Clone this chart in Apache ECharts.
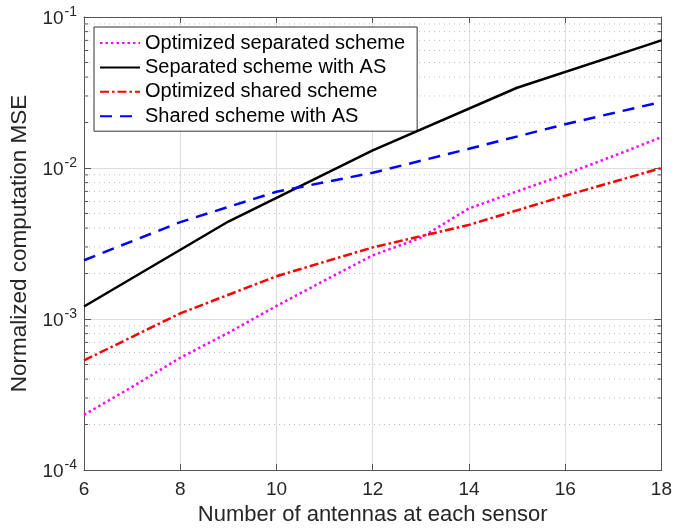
<!DOCTYPE html>
<html>
<head>
<meta charset="utf-8">
<script src="https://cdn.jsdelivr.net/npm/echarts@6/dist/echarts.min.js"></script>
<style>
  html, body { margin: 0; padding: 0; background: #fff; }
  #chart { width: 675px; height: 531px; }
</style>
</head>
<body>
<div id="chart"></div>
<script>
// x positions of the simulated points
var xAll = [6, 7, 8, 9, 10, 11, 12, 13, 14, 15, 16, 17, 18];
var xEven = [6, 8, 10, 12, 14, 16, 18];
var xThird = [6, 9, 12, 15, 18];

// normalized computation MSE
var sepOptimized = [2.32e-4, 3.55e-4, 5.54e-4, 8.1e-4, 1.22e-3, 1.8e-3, 2.64e-3, 3.45e-3, 5.4e-3, 7.0e-3, 9.08e-3, 1.2e-2, 1.6e-2]; // on xAll
var sepWithAS = [1.21e-3, 4.42e-3, 1.31e-2, 3.4e-2, 7.0e-2];                        // on xThird
var sharedOptimized = [5.32e-4, 1.09e-3, 1.92e-3, 2.98e-3, 4.2e-3, 6.55e-3, 1.0e-2]; // on xEven
var sharedWithAS = [2.45e-3, 4.38e-3, 6.96e-3, 9.3e-3, 1.34e-2, 1.95e-2, 2.74e-2];   // on xEven

var seriesNames = ['Optimized separated scheme', 'Separated scheme with AS',
  'Optimized shared scheme', 'Shared scheme with AS'];

// axis ranges / ticks
var xMin = 6, xMax = 18, xStep = 2;
var yMin = 1e-4, yMax = 1e-1;
var minorMantissas = [2, 3, 4, 5, 6, 7, 8, 9];
var decades = [1e-4, 1e-3, 1e-2];

var minorValues = [];
decades.forEach(function (d) {
  minorMantissas.forEach(function (m) { minorValues.push([xMin, m * d]); });
});

function pairs(xs, ys) {
  return xs.map(function (x, i) { return [x, ys[i]]; });
}

var font = 'Liberation Sans, Arial, Helvetica, sans-serif';
var axisCol = '#555';
var textCol = '#262626';

function expLabel(v) {
  return '{b|10}{e|' + Math.round(Math.log10(v)) + '}';
}

var chart = echarts.init(document.getElementById('chart'));

var option = {
  animation: false,
  backgroundColor: '#fff',
  textStyle: { fontFamily: font },
  grid: { left: 84, right: 12.3, top: 17, bottom: 57.5, containLabel: false },
  legend: {
    data: seriesNames,
    orient: 'vertical',
    left: 94,
    top: 27,
    padding: [6, 12, 5, 5],
    itemGap: 4.4,
    itemWidth: 40,
    itemHeight: 14,
    backgroundColor: '#fff',
    borderColor: '#333',
    borderWidth: 1,
    borderRadius: 0,
    itemStyle: { color: 'rgba(0,0,0,0)', borderColor: 'rgba(0,0,0,0)', borderWidth: 0 },
    textStyle: { fontSize: 20, lineHeight: 20, color: '#000', fontFamily: font }
  },
  xAxis: [{
    type: 'value',
    min: xMin, max: xMax, interval: xStep,
    name: 'Number of antennas at each sensor',
    nameLocation: 'middle',
    nameGap: 34,
    nameTextStyle: { fontSize: 22, color: textCol, fontFamily: font },
    axisLine: { lineStyle: { color: axisCol, width: 1 } },
    axisTick: { inside: true, length: 6, lineStyle: { color: axisCol } },
    axisLabel: { fontSize: 19, color: textCol, margin: 10, fontFamily: font },
    splitLine: { show: true, lineStyle: { color: '#dedede', width: 1 } }
  }, {
    type: 'value',
    position: 'top',
    min: xMin, max: xMax, interval: xStep,
    axisLine: { lineStyle: { color: axisCol, width: 1 } },
    axisTick: { inside: true, length: 6, lineStyle: { color: axisCol } },
    axisLabel: { show: false },
    splitLine: { show: false }
  }],
  yAxis: [{
    type: 'log',
    logBase: 10,
    min: yMin, max: yMax,
    name: 'Normalized computation MSE',
    nameLocation: 'middle',
    nameGap: 50,
    nameTextStyle: { fontSize: 22.5, color: textCol, fontFamily: font },
    axisLine: { show: true, lineStyle: { color: axisCol, width: 1 } },
    axisTick: { show: true, inside: true, length: 7, lineStyle: { color: axisCol } },
    axisLabel: {
      margin: 7,
      formatter: expLabel,
      rich: {
        b: { fontSize: 19, color: textCol, fontFamily: font, verticalAlign: 'bottom' },
        e: { fontSize: 14, color: textCol, fontFamily: font, verticalAlign: 'bottom', padding: [0, 0, 9, 1] }
      }
    },
    splitLine: { show: true, lineStyle: { color: '#dedede', width: 1 } }
  }, {
    type: 'log',
    logBase: 10,
    position: 'right',
    min: yMin, max: yMax,
    axisLine: { show: true, lineStyle: { color: axisCol, width: 1 } },
    axisTick: { show: true, inside: true, length: 7, lineStyle: { color: axisCol } },
    axisLabel: { show: false },
    splitLine: { show: false }
  }],
  series: [
    {
      // minor log grid + minor ticks at 2..9 x 10^k
      type: 'custom',
      name: 'minor',
      silent: true,
      z: 1,
      xAxisIndex: 0, yAxisIndex: 0,
      data: minorValues,
      renderItem: function (params, api) {
        var cs = params.coordSys;
        var y = api.coord([api.value(0), api.value(1)])[1];
        return {
          type: 'group',
          children: [{
            type: 'line',
            shape: { x1: cs.x, y1: y, x2: cs.x + cs.width, y2: y },
            style: { stroke: '#bdbdbd', lineWidth: 1, lineDash: [1, 4] }
          }, {
            type: 'line',
            shape: { x1: cs.x, y1: y, x2: cs.x + 4, y2: y },
            style: { stroke: axisCol, lineWidth: 1 }
          }, {
            type: 'line',
            shape: { x1: cs.x + cs.width - 4, y1: y, x2: cs.x + cs.width, y2: y },
            style: { stroke: axisCol, lineWidth: 1 }
          }]
        };
      }
    },
    {
      name: seriesNames[0], type: 'line', symbol: 'none', z: 5,
      data: pairs(xAll, sepOptimized),
      itemStyle: { color: '#ff00ff' },
      lineStyle: { color: '#ff00ff', width: 2.5, type: [2.5, 3] }
    },
    {
      name: seriesNames[1], type: 'line', symbol: 'none', z: 5,
      data: pairs(xThird, sepWithAS),
      itemStyle: { color: '#000' },
      lineStyle: { color: '#000', width: 2.5, type: 'solid' }
    },
    {
      name: seriesNames[2], type: 'line', symbol: 'none', z: 5,
      data: pairs(xEven, sharedOptimized),
      itemStyle: { color: '#ff0000' },
      lineStyle: { color: '#ff0000', width: 2.5, type: [9, 3, 2.5, 3] }
    },
    {
      name: seriesNames[3], type: 'line', symbol: 'none', z: 5,
      data: pairs(xEven, sharedWithAS),
      itemStyle: { color: '#0000ff' },
      lineStyle: { color: '#0000ff', width: 2.5, type: [12, 8] }
    }
  ]
};

chart.setOption(option);
</script>
</body>
</html>
